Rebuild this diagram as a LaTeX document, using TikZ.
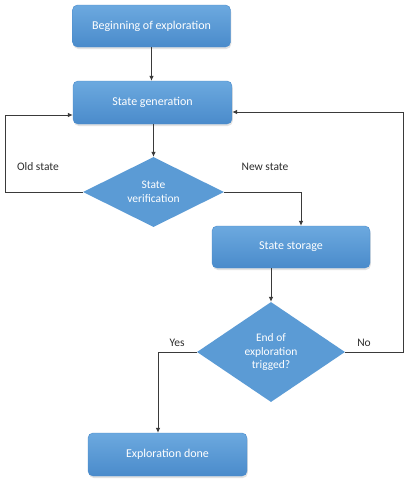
\documentclass[tikz,border=0pt]{standalone}
\usepackage{fontspec}
\setmainfont{Carlito}
\usetikzlibrary{shapes.geometric,arrows.meta,shadows}
\definecolor{boxtop}{HTML}{6CA9DF}
\definecolor{boxbot}{HTML}{4A8BCB}
\definecolor{dia}{HTML}{5B9BD5}
\definecolor{conn}{HTML}{3A3A3A}
\definecolor{lbl}{HTML}{2E2E2E}
\begin{document}
\begin{tikzpicture}[x=1pt,y=-1pt,
  box/.style={rectangle, rounded corners=5pt, minimum width=158pt, minimum height=42pt,
    top color=boxtop, bottom color=boxbot, draw=boxbot, line width=0.4pt, text=white,
    font=\fontsize{12}{14}\selectfont,
    drop shadow={shadow xshift=0.8pt, shadow yshift=-2pt, opacity=0.22}},
  dec/.style={diamond, fill=dia, inner sep=0pt, text=white, align=center,
    font=\fontsize{11.5}{13.5}\selectfont},
  arr/.style={draw=conn, line width=0.8pt, -{Latex[length=5pt,width=4.5pt]}},
  lab/.style={text=lbl, font=\fontsize{11.5}{13.5}\selectfont}]
\useasboundingbox (0,0) rectangle (405,483);
\fill[white] (0,0) rectangle (405,483);

\node[box] (b1) at (151.5,26) {Beginning of exploration};
\node[box, minimum width=159pt, minimum height=43pt] (b2) at (152.5,102.5) {State generation};
\node[dec, minimum width=141pt, minimum height=70pt, aspect=2] (d1) at (153.5,192) {State\\verification};
\node[box] (b3) at (291,247) {State storage};
\node[dec, minimum width=148pt, minimum height=100pt, aspect=1.5] (d2) at (271,352) {End of\\exploration\\trigged?};
\node[box, minimum width=159pt, minimum height=43pt] (b4) at (167.5,454.5) {Exploration done};

\coordinate (L) at (5,115);
\coordinate (R) at (403,112);
\coordinate (Y) at (158,0);

\draw[arr] (b1.south) -- (b1.south |- b2.north);
\draw[arr] (d1.north |- b2.south) -- (d1.north);
\draw[arr] (d1.west) -| (L) -- (L -| b2.west);
\draw[arr] (d1.east) -| ([xshift=10pt]b3.north);
\draw[arr] (d2.north |- b3.south) -- (d2.north);
\draw[arr] (d2.east) -| (R) -- (R -| b2.east);
\draw[arr] (d2.west) -| (Y |- b4.north);

\node[lab] (lold) at (38,167) {Old state};
\node[lab] (lnew) at (265,167) {New state};
\node[lab] (lyes) at (177,343) {Yes};
\node[lab] (lno) at (364,343) {No};
\end{tikzpicture}
\end{document}
